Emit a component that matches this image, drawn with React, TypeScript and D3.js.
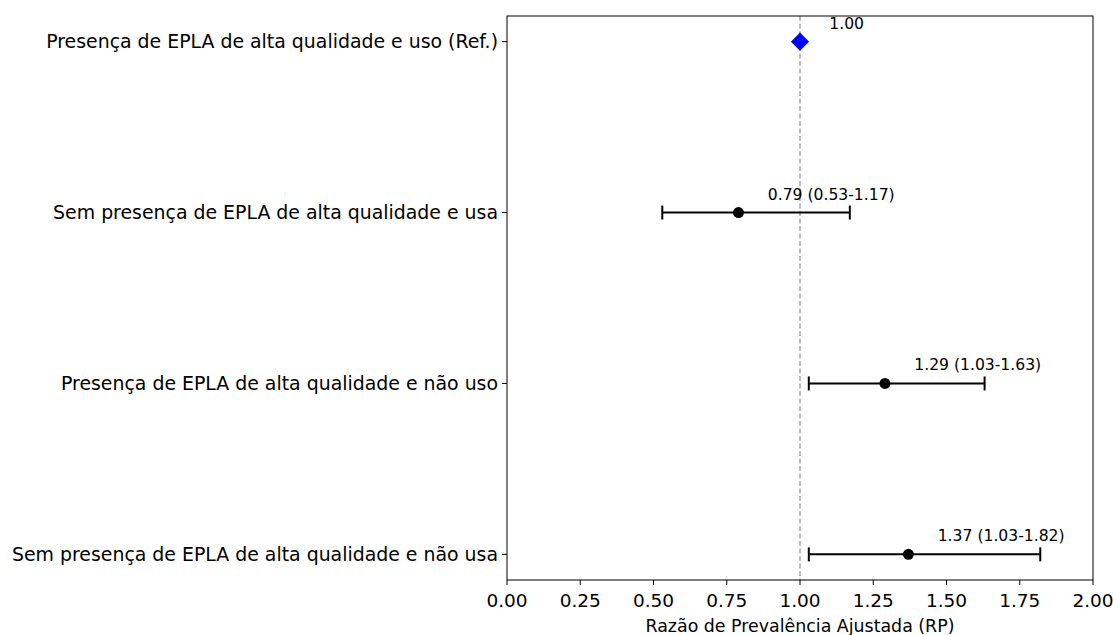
import * as d3 from "d3";

const categories = [
  "Presença de EPLA de alta qualidade e uso (Ref.)",
  "Sem presença de EPLA de alta qualidade e usa",
  "Presença de EPLA de alta qualidade e não uso",
  "Sem presença de EPLA de alta qualidade e não usa",
];
const estimates = [1.0, 0.79, 1.29, 1.37];
const lower = [1.0, 0.53, 1.03, 1.03];
const upper = [1.0, 1.17, 1.63, 1.82];
const isRef = [true, false, false, false];
const xTicks = [0, 0.25, 0.5, 0.75, 1.0, 1.25, 1.5, 1.75, 2.0];

const W = 1113;
const H = 635;
const left = 507;
const right = 1093;
const top = 16;
const bottom = 580;
const font = "DejaVu Sans, sans-serif";

export default function App() {
  const x = d3.scaleLinear().domain([0, 2]).range([left, right]);
  const y = d3
    .scaleLinear()
    .domain([-0.15, categories.length - 1 + 0.15])
    .range([top, bottom]);
  const diamond = d3.symbol().type(d3.symbolDiamond2).size(210)() || "";

  const label = (i: number) =>
    isRef[i]
      ? estimates[i].toFixed(2)
      : `${estimates[i].toFixed(2)} (${lower[i].toFixed(2)}-${upper[i].toFixed(2)})`;

  return (
    <svg width={W} height={H} style={{ position: "absolute", left: 0, top: 0 }}>
      <rect width={W} height={H} fill="#fff" />
      {/* reference line */}
      <line
        x1={x(1)}
        x2={x(1)}
        y1={top}
        y2={bottom}
        stroke="#999"
        strokeWidth={1.3}
        strokeDasharray="5,2.5"
      />
      {categories.map((c, i) => {
        const cy = y(i);
        return (
          <g key={c}>
            {!isRef[i] && (
              <g stroke="#000" strokeWidth={2}>
                <line x1={x(lower[i])} x2={x(upper[i])} y1={cy} y2={cy} />
                <line x1={x(lower[i])} x2={x(lower[i])} y1={cy - 7} y2={cy + 7} />
                <line x1={x(upper[i])} x2={x(upper[i])} y1={cy - 7} y2={cy + 7} />
              </g>
            )}
            {isRef[i] ? (
              <path d={diamond} transform={`translate(${x(estimates[i])},${cy})`} fill="#0000ff" />
            ) : (
              <circle cx={x(estimates[i])} cy={cy} r={5.5} fill="#000" />
            )}
            <text
              x={x(estimates[i] + 0.1)}
              y={cy - 13}
              fontFamily={font}
              fontSize={15.6}
              fill="#000"
            >
              {label(i)}
            </text>
            {/* y tick + label */}
            <line x1={left - 5} x2={left} y1={cy} y2={cy} stroke="#000" strokeWidth={1} />
            <text
              x={left - 9}
              y={cy}
              dy="0.35em"
              textAnchor="end"
              fontFamily={font}
              fontSize={18.9}
              fill="#000"
            >
              {c}
            </text>
          </g>
        );
      })}
      {/* frame */}
      <rect
        x={left}
        y={top}
        width={right - left}
        height={bottom - top}
        fill="none"
        stroke="#000"
        strokeWidth={1}
      />
      {xTicks.map((t) => (
        <g key={t} transform={`translate(${x(t)},${bottom})`}>
          <line y1={0} y2={5} stroke="#000" strokeWidth={1} />
          <text
            y={21}
            dy="0.35em"
            textAnchor="middle"
            fontFamily={font}
            fontSize={18.5}
            fill="#000"
          >
            {t.toFixed(2)}
          </text>
        </g>
      ))}
      <text
        x={(left + right) / 2}
        y={632}
        textAnchor="middle"
        fontFamily={font}
        fontSize={17.4}
        fill="#000"
      >
        Razão de Prevalência Ajustada (RP)
      </text>
    </svg>
  );
}
